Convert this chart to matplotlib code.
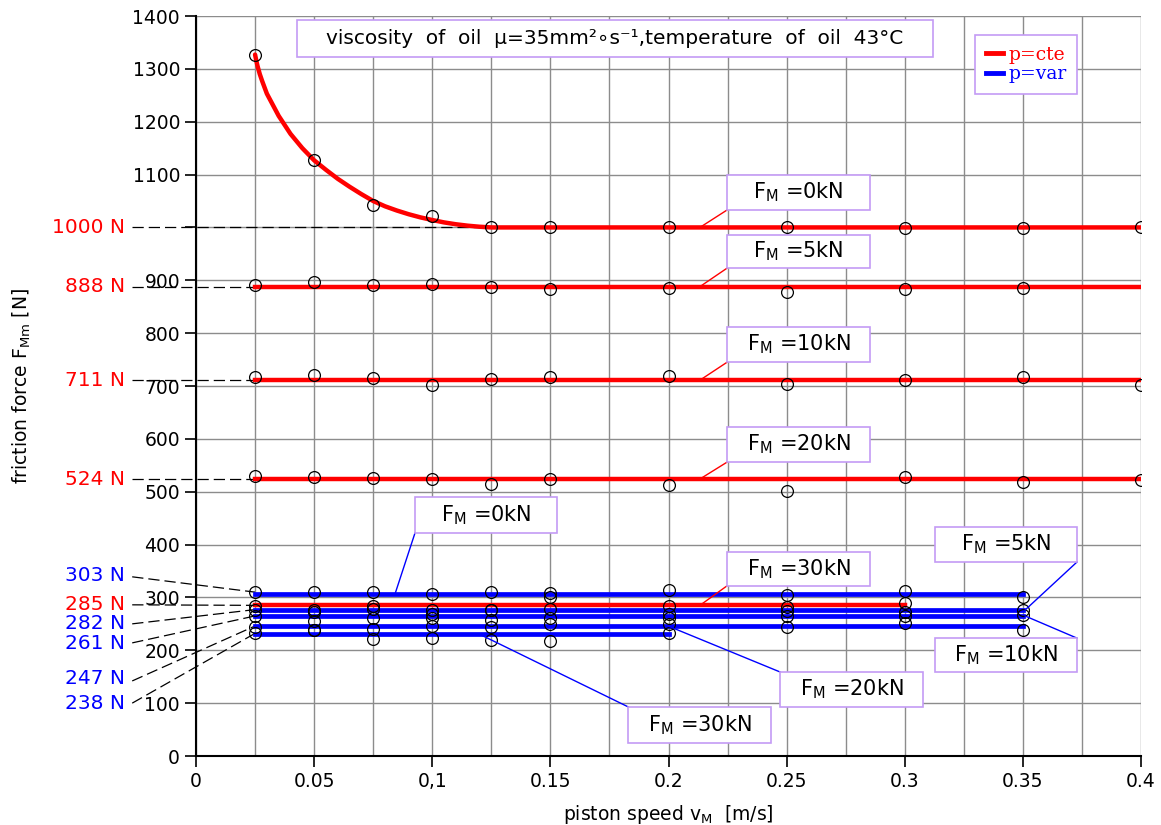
import matplotlib
matplotlib.use("Agg")
import matplotlib.pyplot as plt
from matplotlib.lines import Line2D
from matplotlib.patches import Rectangle

plt.rcParams['font.family'] = ['DejaVu Sans']

# measured speeds [m/s]
speeds = [0.025, 0.05, 0.075, 0.1, 0.125, 0.15, 0.2, 0.25, 0.3, 0.35, 0.4]

# p=cte, measured friction force [N]
cte_0kN = [1327, 1127, 1042, 1022, 1000, 1000, 1001, 1000, 999, 999, 1000]
cte_5kN = [891, 897, 891, 893, 887, 883, 885, 878, 883, 885]
cte_10kN = [717, 721, 715, 702, 713, 717, 719, 704, 711, 717, 702]
cte_20kN = [530, 528, 526, 524, 515, 524, 513, 501, 528, 518, 522]
cte_30kN = [284, 277, 284, 276, 277, 300, 284, 282, 289]

# p=var, measured friction force [N]
var_0kN = [311, 311, 310, 306, 311, 308, 314, 305, 312, 300]
var_5kN = [276, 272, 278, 268, 277, 279, 268, 274, 272, 276]
var_10kN = [264, 256, 262, 262, 257, 262, 262, 264, 264, 267]
var_20kN = [245, 238, 240, 246, 245, 249, 249, 245, 251, 238]
var_30kN = [232, 238, 221, 223, 219, 217, 232]

# fitted curve for F_M=0kN, p=cte
fit0_x = [0.025, 0.0255, 0.026, 0.027, 0.028, 0.03, 0.035, 0.04, 0.045,
          0.05, 0.055, 0.06, 0.065, 0.07, 0.075, 0.08, 0.085, 0.09, 0.095,
          0.1, 0.105, 0.11, 0.115, 0.12, 0.125, 0.4]
fit0_y = [1327, 1316, 1306, 1290, 1277, 1253, 1211, 1177, 1150,
          1127, 1109, 1092, 1077, 1063, 1050, 1040, 1032, 1025, 1019,
          1014, 1009.5, 1006, 1003.3, 1001.3, 1000, 1000]

# fitted levels
cte_levels = [888, 711, 524, 285]
cte_ends = [0.4, 0.4, 0.4, 0.3]
var_levels = [306, 276, 265, 246, 230]
var_ends = [0.35, 0.35, 0.35, 0.35, 0.2]

upper_labels = ['1000 N', '888 N', '711 N', '524 N']
upper_label_y = [1000, 888, 711, 524]
lower_labels = ['303 N', '285 N', '282 N', '261 N', '247 N', '238 N']
lower_colors = ['blue', 'red', 'blue', 'blue', 'blue', 'blue']
lower_label_y = [342, 286, 250, 212, 146, 100]
lower_line_start_y = [339, 286, 250, 214, 142, 100]
lower_line_end_y = [310, 285, 277, 265, 246, 232]

RED = '#ff0000'
BLUE = '#0000ff'
BOXEDGE = '#c39bf5'

fig = plt.figure(figsize=(11.61, 8.25), dpi=100, facecolor='w')
ax = fig.add_axes([196 / 1161, 1 - 756 / 825, 945 / 1161, 740 / 825])

ax.set_xlim(0, 0.4)
ax.set_ylim(0, 1400)
ax.set_xticks([i * 0.05 for i in range(9)])
ax.set_xticks([0.025 + i * 0.05 for i in range(8)], minor=True)
ax.set_xticklabels(['0', '0.05', '0,1', '0.15', '0.2', '0.25', '0.3', '0.35', '0.4'])
ax.set_yticks(range(0, 1401, 100))
ax.set_yticklabels(['' if v == 1000 else str(v) for v in range(0, 1401, 100)])
ax.grid(True, which='both', color='#8c8c8c', lw=1.0)
ax.tick_params(axis='x', which='minor', length=0)
ax.tick_params(axis='both', which='major', length=8, width=1.2, labelsize=13.5, direction='out')
for s in ['top', 'right']:
    ax.spines[s].set_visible(False)
for s in ['left', 'bottom']:
    ax.spines[s].set_linewidth(1.5)
ax.set_axisbelow(True)

ax.set_xlabel('piston speed v$_\\mathregular{M}$  [m/s]', fontsize=13.5, labelpad=9)
ax.set_ylabel('friction force F$_\\mathregular{Mm}$ [N]', fontsize=13.5)
ax.yaxis.set_label_coords(-0.172, 0.5)

mk = dict(ls='none', marker='o', ms=8.5, mfc='none', mec='black', mew=0.9, zorder=4)

# p=cte
ax.plot(fit0_x, fit0_y, color=RED, lw=3.2, zorder=3, solid_capstyle='round',
        solid_joinstyle='round')
for lev, end in zip(cte_levels, cte_ends):
    ax.plot([0.025, end], [lev, lev], color=RED, lw=3.2, zorder=3)
ax.plot(speeds, cte_0kN, **mk)
ax.plot(speeds[:len(cte_5kN)], cte_5kN, **mk)
ax.plot(speeds, cte_10kN, **mk)
ax.plot(speeds, cte_20kN, **mk)
ax.plot(speeds[:len(cte_30kN)], cte_30kN, **mk)

# p=var
for lev, end in zip(var_levels, var_ends):
    ax.plot([0.025, end], [lev, lev], color=BLUE, lw=3.4, zorder=3)
for ser in [var_0kN, var_5kN, var_10kN, var_20kN, var_30kN]:
    ax.plot(speeds[:len(ser)], ser, **mk)

# left value labels with dashed leaders
dash = dict(color='black', lw=0.9, dashes=(9, 4), clip_on=False, zorder=2)
for lab, y in zip(upper_labels, upper_label_y):
    ax.text(-0.030, y, lab, color=RED, fontsize=14.5, ha='right', va='center')
ax.plot([-0.027, 0.12], [1000, 1000], **dash)
for y in upper_label_y[1:]:
    ax.plot([-0.027, 0.025], [y, y], **dash)
for lab, c, y, y0, y1 in zip(lower_labels, lower_colors, lower_label_y,
                             lower_line_start_y, lower_line_end_y):
    ax.text(-0.030, y, lab, color=c, fontsize=14.5, ha='right', va='center')
    ax.plot([-0.027, 0.025], [y0, y1], **dash)


def box(x0, x1, y0, y1, text, fs=15):
    ax.add_patch(Rectangle((x0, y0), x1 - x0, y1 - y0, facecolor='white',
                           edgecolor=BOXEDGE, lw=1.2, zorder=6, clip_on=False))
    ax.text((x0 + x1) / 2, (y0 + y1) / 2, text, fontsize=fs, ha='center',
            va='center', zorder=7)


def tag(x0, x1, y0, y1, text, p, q, color):
    ax.plot([p[0], q[0]], [p[1], q[1]], color=color, lw=1.0, zorder=5, clip_on=False)
    box(x0, x1, y0, y1, text)


def fm(n):
    return 'F$_\\mathregular{M}$ =' + str(n) + 'kN'


tag(0.2248, 0.2853, 1033, 1099, fm(0), (0.2133, 1000), (0.2248, 1033), RED)
tag(0.2248, 0.2853, 923, 986, fm(5), (0.2133, 888), (0.2248, 923), RED)
tag(0.2248, 0.2853, 745, 812, fm(10), (0.2133, 711), (0.2248, 745), RED)
tag(0.2248, 0.2853, 556, 622, fm(20), (0.2133, 524), (0.2248, 556), RED)
tag(0.2248, 0.2853, 322, 386, fm(30), (0.2133, 285), (0.2248, 322), RED)
tag(0.0927, 0.1528, 422, 490, fm(0), (0.0842, 306), (0.0927, 422), BLUE)
tag(0.3128, 0.3729, 367, 433, fm(5), (0.3509, 276), (0.3729, 367), BLUE)
tag(0.3128, 0.3729, 159, 223, fm(10), (0.3509, 265), (0.3729, 223), BLUE)
tag(0.2472, 0.3077, 93, 159, fm(20), (0.1998, 246), (0.2472, 159), BLUE)
tag(0.1829, 0.2434, 25, 93, fm(30), (0.1202, 230), (0.1829, 93), BLUE)

box(0.0427, 0.312, 1322, 1392,
    'viscosity  of  oil  \u03bc=35mm\u00b2\u2218s\u207b\u00b9,temperature  of  oil  43\u00b0C', fs=14.5)

handles = [Line2D([], [], color=RED, lw=3.5), Line2D([], [], color=BLUE, lw=3.5)]
leg = ax.legend(handles, ['p=cte', 'p=var'], loc='upper right',
                bbox_to_anchor=(0.932, 0.974), borderaxespad=0,
                prop={'family': 'DejaVu Serif', 'size': 13.5},
                labelcolor=[RED, BLUE], fancybox=False, framealpha=1,
                edgecolor=BOXEDGE, handlelength=0.9, handletextpad=0.3,
                labelspacing=0.1, borderpad=0.55)
leg.get_frame().set_linewidth(1.2)
leg.set_zorder(8)

plt.savefig('out.png', dpi=100)
